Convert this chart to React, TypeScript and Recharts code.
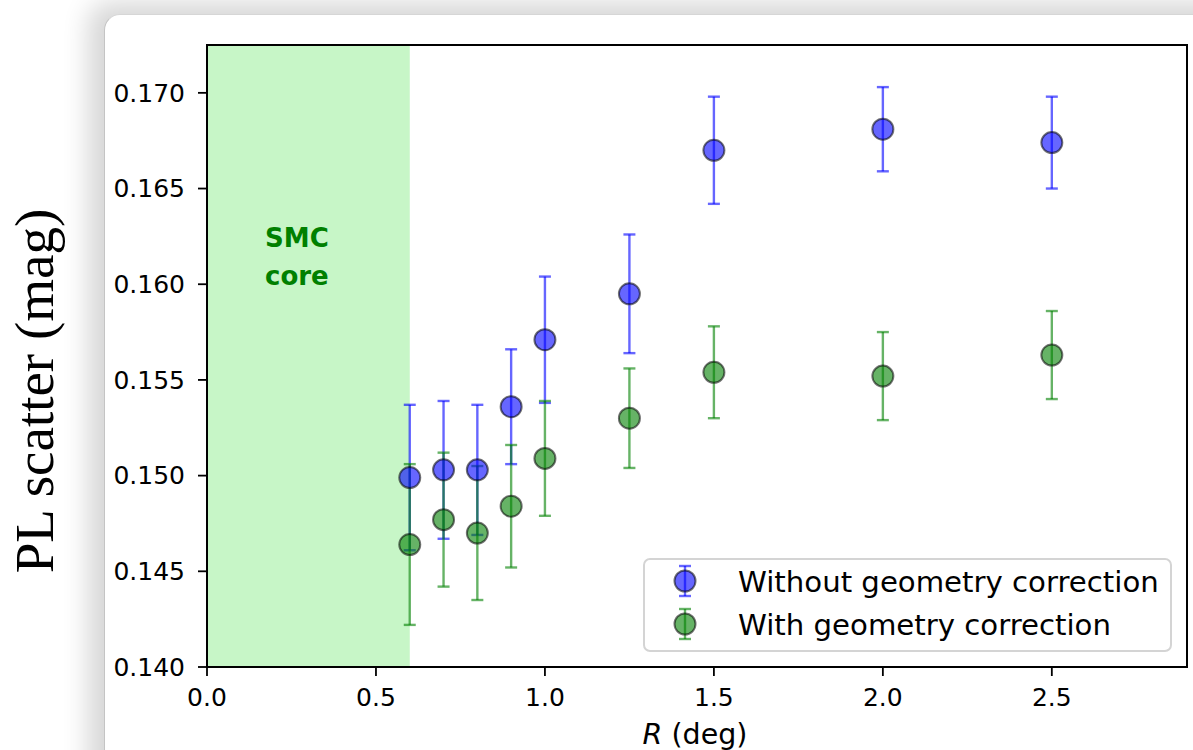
import React from 'react';
import {
  ScatterChart,
  Scatter,
  XAxis,
  YAxis,
  ErrorBar,
  ReferenceArea,
  ReferenceDot,
  Legend,
  Label,
} from 'recharts';

// ---- data ----
const radii = [0.6, 0.7, 0.8, 0.9, 1.0, 1.25, 1.5, 2.0, 2.5];
const withoutCorr = [0.1499, 0.1503, 0.1503, 0.1536, 0.1571, 0.1595, 0.1670, 0.1681, 0.1674];
const withoutErr = [0.0038, 0.0036, 0.0034, 0.0030, 0.0033, 0.0031, 0.0028, 0.0022, 0.0024];
const withCorr = [0.1464, 0.1477, 0.1470, 0.1484, 0.1509, 0.1530, 0.1554, 0.1552, 0.1563];
const withErr = [0.0042, 0.0035, 0.0035, 0.0032, 0.0030, 0.0026, 0.0024, 0.0023, 0.0023];

const xTicks = [0, 0.5, 1.0, 1.5, 2.0, 2.5];
const yTicks = [0.14, 0.145, 0.15, 0.155, 0.16, 0.165, 0.17];
const xDomain = [0, 2.9];
const yDomain = [0.14, 0.1725];
const coreLimit = 0.6;
const coreLabelPos = { x: 0.266, y: 0.1614 };
const coreLabelLines = ['SMC', 'core'];

const seriesNames = ['Without geometry correction', 'With geometry correction'];
const seriesColors = ['blue', 'green'];

const dataWithout = radii.map((x, i) => ({ x, y: withoutCorr[i], err: withoutErr[i] }));
const dataWith = radii.map((x, i) => ({ x, y: withCorr[i], err: withErr[i] }));

const FONT = '"DejaVu Sans", sans-serif';

const makeMarker = (color: string) => (props: any) => {
  const { cx, cy } = props;
  if (cx == null || cy == null) return <g />;
  return (
    <circle
      cx={cx}
      cy={cy}
      r={10.5}
      fill={color}
      fillOpacity={0.6}
      stroke="black"
      strokeOpacity={0.55}
      strokeWidth={2}
    />
  );
};

const LegendBox = () => (
  <div
    style={{
      width: 529,
      height: 94,
      boxSizing: 'border-box',
      background: 'rgba(255,255,255,0.85)',
      border: '2px solid #d4d4d4',
      borderRadius: 7,
    }}
  >
    <svg width={525} height={90} style={{ display: 'block' }}>
      {seriesNames.map((name, i) => {
        const cy = 21 + i * 43;
        const cx = 40;
        const c = seriesColors[i];
        return (
          <g key={name}>
            <line x1={cx} x2={cx} y1={cy - 15} y2={cy + 15} stroke={c} strokeOpacity={0.6} strokeWidth={2.4} />
            <line x1={cx - 6} x2={cx + 6} y1={cy - 15} y2={cy - 15} stroke={c} strokeOpacity={0.6} strokeWidth={2.4} />
            <line x1={cx - 6} x2={cx + 6} y1={cy + 15} y2={cy + 15} stroke={c} strokeOpacity={0.6} strokeWidth={2.4} />
            <circle cx={cx} cy={cy} r={10.5} fill={c} fillOpacity={0.6} stroke="black" strokeOpacity={0.55} strokeWidth={2} />
            <text x={93} y={cy + 10.5} fontFamily={FONT} fontSize={29.2} fill="black">
              {name}
            </text>
          </g>
        );
      })}
    </svg>
  </div>
);

export default function App() {
  return (
    <div
      style={{
        position: 'fixed',
        left: 0,
        top: 0,
        width: 1193,
        height: 750,
        background: '#ffffff',
        overflow: 'hidden',
      }}
    >
      <div
        style={{
          position: 'absolute',
          left: 104,
          top: 14,
          width: 1200,
          height: 800,
          background: '#ffffff',
          borderTopLeftRadius: 16,
          borderLeft: '1.5px solid #c4c4c4',
          borderTop: '1.5px solid #d6d6d6',
          boxShadow: '-10px -6px 26px 6px rgba(0,0,0,0.16)',
        }}
      />
      <div style={{ position: 'absolute', left: 0, top: 0 }}>
        <ScatterChart
          width={1193}
          height={750}
          margin={{ top: 45, right: 6, bottom: 23, left: 107 }}
        >
          <XAxis
            type="number"
            dataKey="x"
            domain={xDomain}
            ticks={xTicks}
            allowDataOverflow
            axisLine={false}
            tickLine={{ stroke: 'black', strokeWidth: 1.8 }}
            tickSize={9}
            tickMargin={12}
            height={60}
            tick={{ fill: 'black', fontFamily: FONT, fontSize: 25 }}
            tickFormatter={(v: number) => v.toFixed(1)}
          >
            <Label
              content={(p: any) => {
                const vb = p.viewBox || {};
                return (
                  <text
                    x={vb.x + vb.width / 2 - 2}
                    y={vb.y + 77}
                    textAnchor="middle"
                    fontFamily={FONT}
                    fontSize={28.5}
                    fill="black"
                  >
                    <tspan fontStyle="italic">R</tspan>
                    <tspan> (deg)</tspan>
                  </text>
                );
              }}
            />
          </XAxis>
          <YAxis
            type="number"
            dataKey="y"
            domain={yDomain}
            ticks={yTicks}
            allowDataOverflow
            axisLine={false}
            tickLine={{ stroke: 'black', strokeWidth: 1.8 }}
            tickSize={9}
            tickMargin={13}
            width={100}
            tick={{ fill: 'black', fontFamily: FONT, fontSize: 25 }}
            tickFormatter={(v: number) => v.toFixed(3)}
          >
            <Label
              content={(p: any) => {
                const vb = p.viewBox || {};
                const bx = vb.x - 54;
                const by = vb.y + vb.height / 2 + 35;
                return (
                  <text
                    x={bx}
                    y={by}
                    transform={`rotate(-90, ${bx}, ${by})`}
                    textAnchor="middle"
                    fontFamily='"Liberation Serif", "Times New Roman", serif'
                    fontSize={55}
                    fill="black"
                  >
                    PL scatter (mag)
                  </text>
                );
              }}
            />
          </YAxis>
          <ReferenceArea
            x1={0}
            x2={coreLimit}
            fill="#90ee90"
            fillOpacity={0.5}
            stroke="none"
          />
          <ReferenceDot
            x={coreLabelPos.x}
            y={coreLabelPos.y}
            r={0}
            fill="none"
            stroke="none"
          >
            <Label
              content={(p: any) => {
                const vb = p.viewBox || {};
                const cx = vb.x + (vb.width || 0) / 2;
                const cy = vb.y + (vb.height || 0) / 2;
                return (
                  <text
                    x={cx}
                    y={cy}
                    textAnchor="middle"
                    fontFamily={FONT}
                    fontWeight="bold"
                    fontSize={26}
                    fill="green"
                  >
                    <tspan x={cx} dy={-10}>{coreLabelLines[0]}</tspan>
                    <tspan x={cx} dy={38}>{coreLabelLines[1]}</tspan>
                  </text>
                );
              }}
            />
          </ReferenceDot>
          <Scatter
            name={seriesNames[0]}
            data={dataWithout}
            isAnimationActive={false}
            shape={makeMarker(seriesColors[0])}
          >
            <ErrorBar
              dataKey="err"
              direction="y"
              width={6}
              stroke={seriesColors[0]}
              strokeOpacity={0.6}
              strokeWidth={2.4}
            />
          </Scatter>
          <Scatter
            name={seriesNames[1]}
            data={dataWith}
            isAnimationActive={false}
            shape={makeMarker(seriesColors[1])}
          >
            <ErrorBar
              dataKey="err"
              direction="y"
              width={6}
              stroke={seriesColors[1]}
              strokeOpacity={0.6}
              strokeWidth={2.4}
            />
          </Scatter>
          <ReferenceArea
            x1={xDomain[0]}
            x2={xDomain[1]}
            y1={yDomain[0]}
            y2={yDomain[1]}
            fill="none"
            stroke="black"
            strokeWidth={2}
          />
          <Legend
            layout="vertical"
            align="center"
            verticalAlign="middle"
            wrapperStyle={{ position: 'absolute', left: 643, top: 558, width: 529, height: 94 }}
            content={() => <LegendBox />}
          />
        </ScatterChart>
      </div>
    </div>
  );
}
